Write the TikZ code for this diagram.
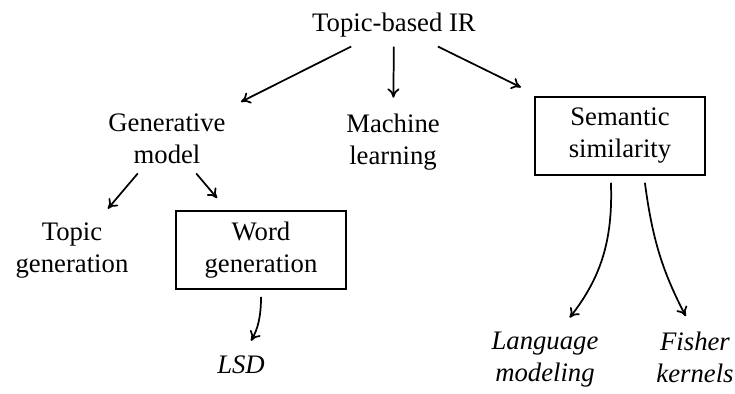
\documentclass[tikz,border=0pt]{standalone}
\usepackage{fontspec}
\usetikzlibrary{arrows.meta}
\setmainfont{Liberation Serif}

\begin{document}
\begin{tikzpicture}[scale=0.658,
  every node/.style={align=center, font=\fontsize{10}{12}\selectfont},
  box/.style={draw, line width=0.9pt, minimum width=2.24cm, minimum height=1.02cm, inner ysep=1.5pt, outer sep=3pt},
  leaf/.style={font=\fontsize{10}{12}\selectfont\itshape},
  arr/.style={-{To[length=3.5pt,width=4.5pt]}, line width=0.65pt, shorten >=2.5pt}]

\useasboundingbox (0,0) rectangle (14.7,7.88);

\node (root) at (7.88,7.38) {Topic-based IR};

\node (gen) at (3.34,5.10) {Generative\\model};
\node (ml) at (7.86,5.04) {Machine\\learning};
\node[box] (sem) at (12.40,5.16) {Semantic\\similarity};

\node (topic) at (1.44,2.86) {Topic\\generation};
\node[box] (word) at (5.22,2.88) {Word\\generation};

\node[leaf] (lsd) at (4.82,0.58) {LSD};
\node[leaf] (lang) at (10.90,0.68) {Language\\modeling};
\node[leaf] (fisher) at (13.90,0.74) {Fisher\\kernels};

\draw[arr] (root) -- (gen);
\draw[arr] (root) -- (ml);
\draw[arr] (root) -- (sem);

\draw[arr] (gen) -- (topic);
\draw[arr] (gen) -- (word);

\draw[arr] (word.south) to[bend left=15] (lsd.70);
\draw[arr] (sem.259) to[bend left=20] (lang.61);
\draw[arr] (sem.298) to[bend right=10] (fisher.100);

\end{tikzpicture}
\end{document}
